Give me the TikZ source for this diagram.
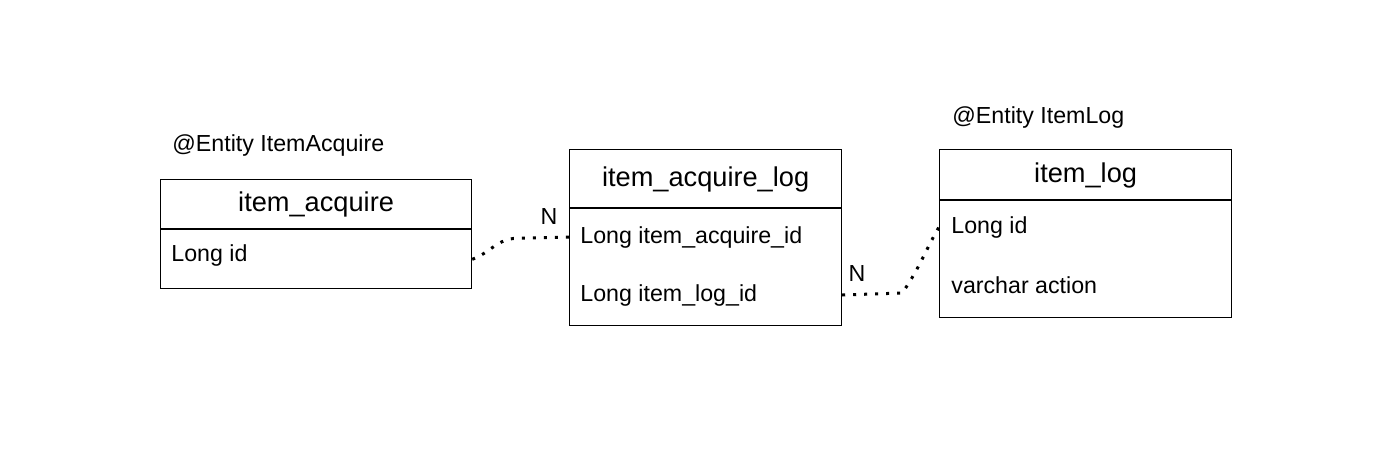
\documentclass[tikz,border=0pt]{standalone}
\usepackage{fontspec}
\setmainfont{Liberation Sans}
\usetikzlibrary{positioning}

\begin{document}
\begin{tikzpicture}[x=0.5pt, y=-0.5pt,
  box/.style={draw, rectangle, line width=0.6pt, inner sep=0pt, anchor=north west},
  head/.style={font=\fontsize{13.6}{16}\selectfont, text height=0.74em, text depth=0pt},
  field/.style={anchor=west, inner sep=0pt, font=\fontsize{11.6}{14}\selectfont},
  note/.style={anchor=west, inner sep=0pt, font=\fontsize{11.6}{14}\selectfont},
  link/.style={line width=1.5pt, dash pattern=on 1.5pt off 4pt},
  card/.style={inner sep=0pt, font=\fontsize{11.6}{14}\selectfont}]
\useasboundingbox (0,0) rectangle (1400,456);

% item_acquire
\node[note] (acqnote) at (172,145) {@Entity ItemAcquire};
\node[box, head, minimum width=155.5pt, minimum height=24.5pt] (acqhead) at (160,179) {item\_acquire};
\node[box, minimum width=155.5pt, minimum height=29.5pt, below=0pt of acqhead.south west, anchor=north west] (acqbody) {};
\node[field] (acqid) at (171,255) {Long id};

% item_acquire_log
\node[box, head, minimum width=136pt, minimum height=29pt] (lnkhead) at (569,149) {item\_acquire\_log};
\node[box, minimum width=136pt, minimum height=58.5pt, below=0pt of lnkhead.south west, anchor=north west] (lnkbody) {};
\node[field] (lnkacq) at (580,237) {Long item\_acquire\_id};
\node[field] (lnklog) at (580,295) {Long item\_log\_id};

% item_log
\node[note] (lognote) at (952,117) {@Entity ItemLog};
\node[box, head, minimum width=146pt, minimum height=25pt] (loghead) at (939,149) {item\_log};
\node[box, minimum width=146pt, minimum height=58.5pt, below=0pt of loghead.south west, anchor=north west] (logbody) {};
\node[field] (logid) at (951,227) {Long id};
\node[field] (logact) at (951,285) {varchar action};

% relations
\draw[link] (acqbody.east) to[out=20,in=180] ++(45,-21) -- (lnkbody.west |- lnkacq);
\node[card] (n1) at (549,217) {N};
\draw[link] (lnkbody.east |- lnklog) -- ++(60,-2) to[out=55,in=240] (logbody.west |- logid);
\node[card] (n2) at (857,274) {N};
\end{tikzpicture}
\end{document}
